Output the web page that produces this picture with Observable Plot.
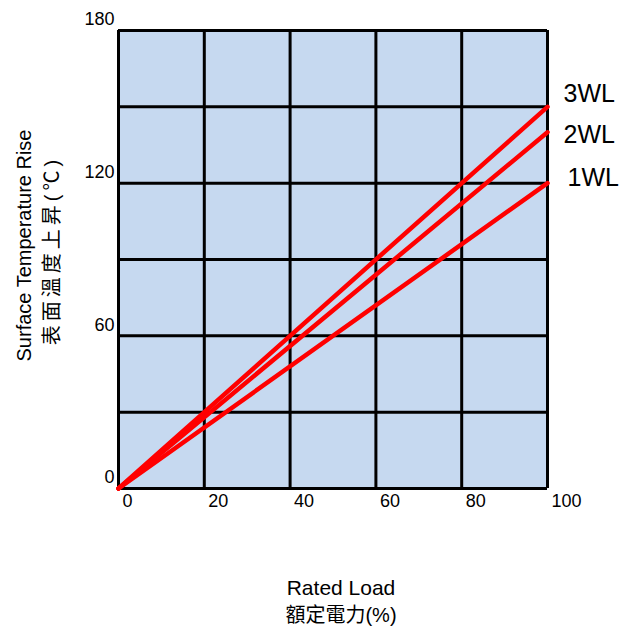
<!DOCTYPE html>
<html>
<head>
<meta charset="utf-8">
<script src="https://cdn.jsdelivr.net/npm/d3@7"></script>
<script src="https://cdn.jsdelivr.net/npm/@observablehq/plot@0.6"></script>
<style>
  html, body { margin: 0; padding: 0; background: #fff; }
  #chart svg { display: block; }
  .cjk-y text { letter-spacing: 4px; }
</style>
</head>
<body>
<div id="chart"></div>
<script>
// ---- data ----
const ratedLoad = [0, 100];          // % of rated load
const rise1WL = [0, 120];            // surface temperature rise, °C
const rise2WL = [0, 140];
const rise3WL = [0, 150];
const seriesNames = ["1WL", "2WL", "3WL"];
const xTicks = [0, 20, 40, 60, 80, 100];
const yTicks = [0, 60, 120, 180];
const xGrid = [0, 20, 40, 60, 80, 100];
const yGrid = [0, 30, 60, 90, 120, 150, 180];

const seriesValues = [rise1WL, rise2WL, rise3WL];
const rows = seriesNames.flatMap((name, i) =>
  ratedLoad.map((x, j) => ({series: name, load: x, rise: seriesValues[i][j]})));
const ends = seriesNames.map((name, i) => ({
  series: name, load: ratedLoad[ratedLoad.length - 1],
  rise: seriesValues[i][seriesValues[i].length - 1]
}));

const latin = "'Liberation Sans', Arial, sans-serif";
const cjk = "'Liberation Sans', 'Noto Sans CJK TC', sans-serif";
const labelDy = {"1WL": -5, "2WL": 3, "3WL": -13};
const labelDx = {"1WL": 20, "2WL": 16, "3WL": 16};

const chart = Plot.plot({
  width: 633,
  height: 627,
  marginLeft: 118,
  marginRight: 86,
  marginTop: 30,
  marginBottom: 139,
  style: {fontFamily: latin, fontSize: "18px", color: "#000", background: "#fff"},
  x: {domain: [0, 100], label: null},
  y: {domain: [0, 180], label: null},
  marks: [
    Plot.frame({fill: "#c6d9f0", stroke: null}),
    Plot.ruleX(xGrid, {stroke: "#000", strokeWidth: 3}),
    Plot.ruleY(yGrid, {stroke: "#000", strokeWidth: 3}),
    Plot.line(rows, {x: "load", y: "rise", z: "series", stroke: "#ff0000",
      strokeWidth: 4.5, strokeLinecap: "round"}),
    Plot.axisX({ticks: xTicks, tickSize: 0, tickPadding: 6, dx: 4,
      textAnchor: "start", fontSize: 18, label: null}),
    Plot.axisY({ticks: yTicks, tickSize: 0, tickPadding: 4, dy: -11,
      fontSize: 18, label: null}),
    ...seriesNames.map(name => Plot.text(ends.filter(d => d.series === name), {
      x: "load", y: "rise", text: "series", textAnchor: "start",
      dx: labelDx[name], dy: labelDy[name], fontSize: 25, fill: "#000"
    })),
    Plot.text(["Rated Load"], {frameAnchor: "bottom", dx: 8, dy: 106,
      fontSize: 21, fill: "#000"}),
    Plot.text(["額定電力(%)"], {frameAnchor: "bottom", dx: 8, dy: 133,
      fontSize: 20, fill: "#000", fontFamily: cjk}),
    Plot.text(["Surface Temperature Rise"], {frameAnchor: "left", textAnchor: "middle",
      dx: -94, dy: -14, rotate: -90, fontSize: 20, fill: "#000"}),
    Plot.text(["表面溫度上昇(℃)"], {frameAnchor: "left", textAnchor: "middle",
      dx: -66, dy: -9, rotate: -90, fontSize: 20, fill: "#000", fontFamily: cjk,
      className: "cjk-y"})
  ]
});
document.getElementById("chart").appendChild(chart);
</script>
</body>
</html>
